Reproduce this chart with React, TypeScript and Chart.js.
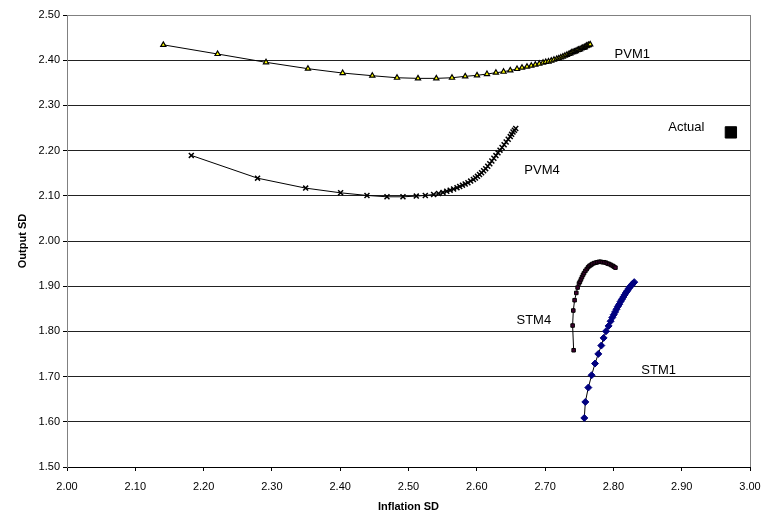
import React, { useEffect, useRef } from "react";
import { Chart, registerables } from "chart.js";

Chart.register(...registerables);

const FONT = '"Liberation Sans", Arial, sans-serif';

// PVM1 (triangles)
const pvm1X = [2.141, 2.2205, 2.2914, 2.3528, 2.4036, 2.447, 2.4832, 2.5139, 2.5407, 2.5637, 2.583, 2.6003, 2.6149, 2.628, 2.6392, 2.649, 2.6589, 2.6662, 2.6735, 2.6798, 2.6857, 2.6915, 2.697,
  2.701, 2.705, 2.709, 2.713, 2.717, 2.720, 2.723, 2.726, 2.729, 2.732, 2.735, 2.737, 2.739, 2.741, 2.743, 2.745, 2.747, 2.749, 2.751, 2.753, 2.755, 2.757, 2.758, 2.760, 2.761, 2.763, 2.764, 2.766];
const pvm1Y = [2.434, 2.4137, 2.3953, 2.3812, 2.3716, 2.3657, 2.3612, 2.3598, 2.3598, 2.3612, 2.3643, 2.3665, 2.3694, 2.3723, 2.3745, 2.3775, 2.3805, 2.3834, 2.3856, 2.3878, 2.39, 2.3922, 2.3944,
  2.396, 2.397, 2.399, 2.401, 2.403, 2.404, 2.406, 2.408, 2.410, 2.412, 2.414, 2.415, 2.417, 2.418, 2.419, 2.420, 2.422, 2.423, 2.424, 2.426, 2.427, 2.428, 2.429, 2.431, 2.432, 2.433, 2.434, 2.435];

// PVM4 (crosses)
const pvm4X = [2.182, 2.279, 2.3494, 2.4006, 2.4392, 2.4685, 2.4919, 2.5114, 2.5246, 2.5368, 2.544, 2.5505, 2.556,
  2.561, 2.566, 2.571, 2.575, 2.579, 2.583, 2.587, 2.591, 2.595, 2.598, 2.601, 2.604, 2.607, 2.610, 2.613, 2.616, 2.619, 2.622, 2.625, 2.628, 2.631, 2.634, 2.637, 2.640, 2.643, 2.646, 2.649, 2.651, 2.653, 2.655, 2.657];
const pvm4Y = [2.1894, 2.139, 2.117, 2.1066, 2.1008, 2.0978, 2.0978, 2.0993, 2.1008, 2.103, 2.105, 2.1075, 2.110,
  2.1125, 2.115, 2.118, 2.1205, 2.1235, 2.126, 2.129, 2.1325, 2.136, 2.1395, 2.143, 2.147, 2.151, 2.1555, 2.160, 2.1655, 2.171, 2.177, 2.183, 2.189, 2.195, 2.201, 2.207, 2.213, 2.219, 2.225, 2.231, 2.236, 2.241, 2.245, 2.249];

// STM4 (squares)
const stm4X = [2.7418, 2.7403, 2.7413, 2.7432, 2.7457, 2.7476, 2.7496,
  2.751, 2.7525, 2.754, 2.7555, 2.757, 2.759, 2.761, 2.763, 2.765, 2.767, 2.769, 2.7715, 2.774, 2.7765, 2.779, 2.7815, 2.784, 2.7865, 2.789, 2.7915, 2.794, 2.7965, 2.799, 2.801, 2.803];
const stm4Y = [1.7583, 1.813, 1.8462, 1.869, 1.8852, 1.897, 1.906,
  1.910, 1.915, 1.920, 1.925, 1.929, 1.934, 1.938, 1.942, 1.945, 1.947, 1.949, 1.951, 1.952, 1.953, 1.954, 1.954, 1.953, 1.953, 1.952, 1.950, 1.949, 1.947, 1.945, 1.943, 1.941];

// STM1 (diamonds)
const stm1X = [2.7574, 2.7589, 2.7633, 2.7681, 2.7731, 2.7779, 2.7823, 2.7857, 2.7892, 2.793, 2.7959, 2.7984,
  2.8005, 2.8025, 2.8045, 2.8065, 2.8085, 2.8105, 2.8125, 2.8145, 2.8165, 2.8185, 2.8205, 2.8225, 2.8245, 2.8265, 2.8285, 2.8305];
const stm1Y = [1.6085, 1.6439, 1.6757, 1.703, 1.7289, 1.7502, 1.7687, 1.7856, 1.8004, 1.8121, 1.8225, 1.8307,
  1.837, 1.843, 1.849, 1.855, 1.860, 1.866, 1.871, 1.876, 1.881, 1.886, 1.890, 1.895, 1.899, 1.902, 1.906, 1.909];

// Actual
const actualX = [2.972];
const actualY = [2.2403];

// Series labels (text, x, y in data units)
const labelText = ["PVM1", "PVM4", "STM4", "STM1", "Actual"];
const labelX = [2.8277, 2.6955, 2.6835, 2.8662, 2.9067];
const labelY = [2.4137, 2.1569, 1.8248, 1.7141, 2.252];

const pts = (xs: number[], ys: number[]) => xs.map((x, i) => ({ x, y: ys[i] }));

const labelsPlugin = {
  id: "seriesLabels",
  beforeDatasetsDraw(chart: any) {
    const { ctx, chartArea } = chart;
    ctx.save();
    ctx.strokeStyle = "#808080";
    ctx.lineWidth = 1;
    ctx.beginPath();
    const r = Math.round(chartArea.right) + 0.5;
    ctx.moveTo(r, Math.round(chartArea.top));
    ctx.lineTo(r, Math.round(chartArea.bottom));
    ctx.stroke();
    ctx.restore();
  },
  afterDatasetsDraw(chart: any) {
    const { ctx, scales } = chart;
    ctx.save();
    ctx.font = `13px ${FONT}`;
    ctx.fillStyle = "#000";
    ctx.textAlign = "center";
    ctx.textBaseline = "middle";
    labelText.forEach((t, i) => {
      ctx.fillText(t, scales.x.getPixelForValue(labelX[i]), scales.y.getPixelForValue(labelY[i]));
    });
    ctx.restore();
  },
};

export default function App() {
  const ref = useRef<HTMLCanvasElement>(null);
  useEffect(() => {
    const chart = new Chart(ref.current!, {
      type: "scatter",
      data: {
        datasets: [
          {
            label: "PVM1",
            data: pts(pvm1X, pvm1Y),
            showLine: true,
            borderColor: "#000",
            borderWidth: 1,
            pointStyle: "triangle",
            pointRadius: 3,
            pointBackgroundColor: "#FFFF00",
            pointBorderColor: "#000",
            pointBorderWidth: 1.2,
          },
          {
            label: "PVM4",
            data: pts(pvm4X, pvm4Y),
            showLine: true,
            borderColor: "#000",
            borderWidth: 1,
            pointStyle: "crossRot",
            pointRadius: 3.5,
            pointBorderColor: "#000",
            pointBorderWidth: 1.5,
          },
          {
            label: "STM4",
            data: pts(stm4X, stm4Y),
            showLine: true,
            borderColor: "#000",
            borderWidth: 1,
            pointStyle: "rect",
            pointRadius: 2.5,
            pointBackgroundColor: "#400030",
            pointBorderColor: "#000",
            pointBorderWidth: 1,
          },
          {
            label: "STM1",
            data: pts(stm1X, stm1Y),
            showLine: true,
            borderColor: "#000",
            borderWidth: 1,
            pointStyle: "rectRot",
            pointRadius: 3.5,
            pointBackgroundColor: "#000080",
            pointBorderColor: "#000080",
            pointBorderWidth: 1,
          },
          {
            label: "Actual",
            data: pts(actualX, actualY),
            showLine: false,
            pointStyle: "rect",
            pointRadius: 8,
            pointBackgroundColor: "#000",
            pointBorderColor: "#000",
            pointBorderWidth: 1,
          },
        ],
      },
      options: {
        animation: false,
        responsive: false,
        maintainAspectRatio: false,
        layout: { padding: { left: 0, top: 15, right: 13, bottom: 0 } },
        plugins: { legend: { display: false }, tooltip: { enabled: false } },
        scales: {
          x: {
            type: "linear",
            min: 2,
            max: 3,
            afterFit: (s: any) => { s.height = 49; s.paddingLeft = 0; s.paddingRight = 0; },
            ticks: {
              stepSize: 0.1,
              callback: (v: any) => Number(v).toFixed(2),
              font: { family: FONT, size: 11 },
              color: "#000",
              padding: 9,
              maxRotation: 0,
            },
            grid: { drawOnChartArea: false, drawTicks: true, tickLength: 4, tickColor: "#000" },
            border: { display: true, color: "#000", width: 1 },
            title: {
              display: true,
              text: "Inflation SD",
              font: { family: FONT, size: 11, weight: "bold" },
              color: "#000",
              padding: { top: 0, bottom: 2 },
            },
          },
          y: {
            type: "linear",
            min: 1.5,
            max: 2.5,
            afterFit: (s: any) => { s.width = 67; s.paddingTop = 0; s.paddingBottom = 0; },
            ticks: {
              stepSize: 0.1,
              callback: (v: any) => Number(v).toFixed(2),
              font: { family: FONT, size: 11 },
              color: "#000",
              padding: 3,
            },
            grid: {
              color: (c: any) => (c.tick && Math.abs(c.tick.value - 2.5) < 1e-6 ? "#808080" : "#222"),
              tickColor: "#000",
              tickLength: 4,
              lineWidth: 1,
            },
            border: { display: true, color: "#808080", width: 1 },
            title: {
              display: true,
              text: "Output SD",
              font: { family: FONT, size: 11, weight: "bold" },
              color: "#000",
              padding: { top: 16, bottom: 0 },
            },
          },
        },
      },
      plugins: [labelsPlugin],
    } as any);
    return () => chart.destroy();
  }, []);
  return (
    <div style={{ position: "absolute", left: 0, top: 0, width: 763, height: 516, background: "#fff" }}>
      <canvas ref={ref} width={763} height={516} style={{ width: 763, height: 516 }} />
    </div>
  );
}
